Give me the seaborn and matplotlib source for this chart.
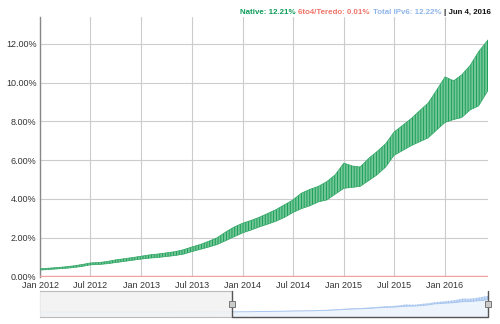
import numpy as np
import pandas as pd
import matplotlib
matplotlib.use("Agg")
import matplotlib.pyplot as plt
import matplotlib.dates as mdates
import seaborn as sns

# ---- data (% of users) ----
months = ["2012-01-01", "2012-02-01", "2012-03-01", "2012-04-01", "2012-05-01", "2012-06-01",
          "2012-07-01", "2012-08-01", "2012-09-01", "2012-10-01", "2012-11-01", "2012-12-01",
          "2013-01-01", "2013-02-01", "2013-03-01", "2013-04-01", "2013-05-01", "2013-06-01",
          "2013-07-01", "2013-08-01", "2013-09-01", "2013-10-01", "2013-11-01", "2013-12-01",
          "2014-01-01", "2014-02-01", "2014-03-01", "2014-04-01", "2014-05-01", "2014-06-01",
          "2014-07-01", "2014-08-01", "2014-09-01", "2014-10-01", "2014-11-01", "2014-12-01",
          "2015-01-01", "2015-02-01", "2015-03-01", "2015-04-01", "2015-05-01", "2015-06-01",
          "2015-07-01", "2015-08-01", "2015-09-01", "2015-10-01", "2015-11-01", "2015-12-01",
          "2016-01-01", "2016-02-01", "2016-03-01", "2016-04-01", "2016-05-01", "2016-06-04"]
native_low = [0.33, 0.36, 0.39, 0.42, 0.46, 0.52, 0.60, 0.62, 0.66, 0.72, 0.78, 0.84,
              0.90, 0.95, 0.98, 1.03, 1.08, 1.15, 1.28, 1.40, 1.52, 1.65, 1.85, 2.05,
              2.25, 2.40, 2.55, 2.70, 2.85, 3.05, 3.30, 3.50, 3.65, 3.85, 3.95, 4.25,
              4.55, 4.60, 4.65, 4.95, 5.25, 5.65, 6.25, 6.50, 6.75, 6.95, 7.15, 7.55,
              7.95, 8.10, 8.20, 8.60, 8.80, 9.60]
native_high = [0.40, 0.43, 0.46, 0.50, 0.55, 0.62, 0.70, 0.72, 0.78, 0.86, 0.92, 0.98,
               1.05, 1.12, 1.16, 1.22, 1.28, 1.38, 1.52, 1.65, 1.82, 2.00, 2.30, 2.55,
               2.75, 2.90, 3.05, 3.25, 3.45, 3.70, 3.95, 4.30, 4.50, 4.65, 4.90, 5.25,
               5.85, 5.70, 5.65, 6.10, 6.45, 6.85, 7.45, 7.80, 8.15, 8.55, 8.95, 9.60,
               10.30, 10.10, 10.40, 10.90, 11.60, 12.21]
teredo = [0.01] * len(months)

nav_early_dates = ["2008-09-11", "2009-06-01", "2010-01-01", "2010-07-01", "2011-01-01",
                   "2011-06-01", "2011-12-31"]
nav_early_vals = [0.14, 0.15, 0.18, 0.20, 0.25, 0.30, 0.33]

header = [("Native: 12.21%", "#0f9d58"), ("6to4/Teredo: 0.01%", "#f07468"),
          ("Total IPv6: 12.22%", "#8fb5ea"), ("| Jun 4, 2016", "#111111")]

# ---- build ----
dates = pd.to_datetime(months)
df = pd.DataFrame({"date": dates, "low": native_low, "high": native_high, "teredo": teredo})

sns.set_theme(style="white")
plt.rcParams["font.family"] = ["Liberation Sans", "DejaVu Sans"]
plt.rcParams["hatch.linewidth"] = 0.6

W, H = 500, 324
fig = plt.figure(figsize=(W / 100, H / 100), dpi=100)

def px_axes(x0, y0, x1, y1):
    return fig.add_axes([x0 / W, 1 - y1 / H, (x1 - x0) / W, (y1 - y0) / H])

ax = px_axes(40, 17, 488, 276.5)
ax.fill_between(df["date"], df["low"], df["high"], facecolor="#72c698",
                edgecolor="#109a4d", hatch="||||||", linewidth=0, zorder=2)
sns.lineplot(data=df, x="date", y="high", ax=ax, color="#2ea563", lw=0.5, zorder=3)
sns.lineplot(data=df, x="date", y="low", ax=ax, color="#2ea563", lw=0.5, zorder=3)
sns.lineplot(data=df, x="date", y="teredo", ax=ax, color="#f4a0a0", lw=1.0, zorder=4)

ax.set_xlim(pd.Timestamp("2012-01-01"), pd.Timestamp("2016-06-04"))
ax.set_ylim(0, 13.39)
ax.set_yticks([0, 2, 4, 6, 8, 10, 12])
ax.set_yticklabels([f"{v:.2f}%" for v in [0, 2, 4, 6, 8, 10, 12]])
ax.xaxis.set_major_locator(mdates.MonthLocator(bymonth=[1, 7]))
ax.xaxis.set_major_formatter(mdates.DateFormatter("%b %Y"))
ax.grid(True, color="#cccccc", lw=0.8, zorder=0)
ax.set_axisbelow(True)
ax.set_xlabel("")
ax.set_ylabel("")
for s in ["top", "right", "bottom"]:
    ax.spines[s].set_visible(False)
ax.spines["left"].set_color("#888888")
ax.spines["left"].set_linewidth(1.0)
ax.tick_params(axis="both", length=0, labelsize=6.5, labelcolor="#333333")
ax.tick_params(axis="y", pad=2.5)
ax.tick_params(axis="x", pad=3.3)

# ---- navigator ----
nav = px_axes(40, 291, 488, 317)
nav_dates = pd.to_datetime(nav_early_dates + months)
nav_low = nav_early_vals + native_low
nav_high = nav_early_vals + native_high
nav_df = pd.DataFrame({"date": nav_dates, "low": nav_low, "high": nav_high})
nav.fill_between(nav_df["date"], -5, nav_df["low"], color="#eef4fc", lw=0, zorder=1)
nav.fill_between(nav_df["date"], nav_df["low"], nav_df["high"], facecolor="#c5d9f5",
                 edgecolor="#9dbdec", hatch="||||||", lw=0, zorder=2)
sns.lineplot(data=nav_df, x="date", y="low", ax=nav, color="#a9c6ef", lw=0.7, zorder=3)
nav.set_xlim(pd.Timestamp("2008-09-11"), pd.Timestamp("2016-06-04"))
nav.set_ylim(-3.5, 15.9)
nav.axvspan(pd.Timestamp("2008-09-11"), pd.Timestamp("2012-01-01"),
            facecolor="#f2f2f2", edgecolor="none", alpha=0.85, zorder=4)
nav.set_xticks([])
nav.set_yticks([])
nav.set_xlabel("")
nav.set_ylabel("")
for s in nav.spines.values():
    s.set_color("#bbbbbb")
    s.set_linewidth(0.8)
nav.spines["right"].set_visible(False)
nav.spines["bottom"].set_visible(False)
nav.spines["top"].set_visible(False)
t0, t1 = mdates.date2num(pd.Timestamp("2012-01-01")), mdates.date2num(pd.Timestamp("2016-06-04"))
tl = mdates.date2num(pd.Timestamp("2008-09-11"))
xt = nav.get_xaxis_transform()
nav.plot([tl, t0], [1, 1], transform=xt, color="#bbbbbb", lw=0.8, zorder=5, clip_on=False)
nav.plot([tl, t0], [0, 0], transform=xt, color="#bbbbbb", lw=0.8, zorder=5, clip_on=False)
nav.plot([t0, t0, t1, t1], [1, 0, 0, 1], transform=xt,
         color="#555555", lw=1.0, zorder=5, clip_on=False)
for t in (t0, t1):
    nav.plot([t], [0.5], transform=xt, marker="s", ms=4.5,
             mfc="#cccccc", mec="#777777", mew=0.7, zorder=6, clip_on=False)

# ---- header (laid out right-to-left, ending at x=491 px) ----
renderer = fig.canvas.get_renderer()
texts = []
for txt, col in header:
    texts.append(fig.text(0, 1 - 12 / H, txt, color=col, fontsize=5.7, fontweight="bold",
                          ha="left", va="center"))
x_right = 491
gap = 3
for t in reversed(texts):
    w = t.get_window_extent(renderer).width
    x_left = x_right - w
    t.set_x(x_left / W)
    x_right = x_left - gap

fig.savefig("out.png", dpi=100)
